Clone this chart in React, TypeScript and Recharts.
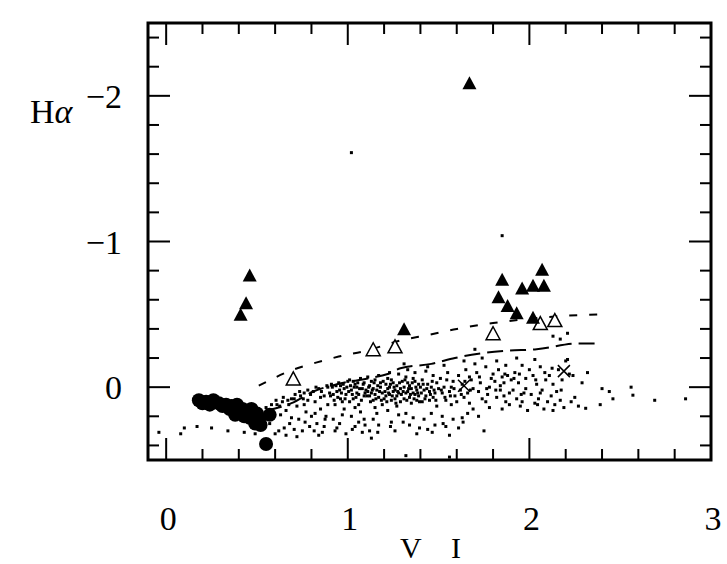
import React from 'react';
import { ComposedChart, Scatter, Line, XAxis, YAxis, ReferenceArea } from 'recharts';

const W = 727;
const H = 564;
const PLOT_LEFT = 148;
const PLOT_RIGHT = 711;
const PLOT_TOP = 23;
const PLOT_BOTTOM = 460;
const FONT = '"Liberation Serif", "DejaVu Serif", serif';

// tick positions (every 0.2, labels on integers)
const xTicks = [0, 0.2, 0.4, 0.6, 0.8, 1, 1.2, 1.4, 1.6, 1.8, 2, 2.2, 2.4, 2.6, 2.8, 3];
const yTicks = [-2.4, -2.2, -2, -1.8, -1.6, -1.4, -1.2, -1, -0.8, -0.6, -0.4, -0.2, 0, 0.2, 0.4];

// filled triangles
const filledTri: [number, number][] = [
  [1.67, -2.08], [0.46, -0.76], [0.44, -0.57], [0.41, -0.49], [1.31, -0.39],
  [1.85, -0.73], [2.07, -0.80], [1.96, -0.67], [2.02, -0.69], [2.08, -0.69],
  [1.83, -0.61], [1.88, -0.55], [1.93, -0.50], [2.02, -0.47],
];

// open triangles
const openTri: [number, number][] = [
  [0.70, -0.05], [1.14, -0.25], [1.26, -0.27], [1.80, -0.36], [2.06, -0.43], [2.14, -0.45],
];

// filled circles
const circles: [number, number][] = [
  [0.18, 0.09], [0.2, 0.11], [0.22, 0.10], [0.24, 0.12], [0.26, 0.09], [0.29, 0.11],
  [0.31, 0.13], [0.33, 0.12], [0.35, 0.15], [0.36, 0.13], [0.38, 0.19], [0.39, 0.12],
  [0.40, 0.17], [0.42, 0.15], [0.43, 0.20], [0.45, 0.16], [0.46, 0.21], [0.47, 0.15],
  [0.49, 0.25], [0.50, 0.18], [0.51, 0.23], [0.52, 0.26], [0.57, 0.19], [0.55, 0.39],
];

// crosses
const crosses: [number, number][] = [[2.19, -0.11], [1.64, -0.01]];

// small dots: field stars
const dots: [number, number][] = [
  [-0.04, 0.31], [0.08, 0.32], [0.10, 0.28], [0.17, 0.27], [0.25, 0.28], [0.34, 0.30], [0.43, 0.31], [0.49, 0.32],
  [0.52, 0.18], [0.55, 0.14], [0.57, 0.25], [0.58, 0.12], [0.60, 0.32], [0.59, 0.20],
  [0.61, 0.12], [0.63, 0.19], [0.64, 0.10], [0.65, 0.28], [0.66, 0.16], [0.67, 0.09], [0.68, 0.25], [0.69, 0.08],
  [0.62, 0.30], [0.66, 0.33], [0.69, 0.21],
  [0.71, 0.05], [0.72, 0.13], [0.73, 0.22], [0.74, 0.06], [0.75, 0.30], [0.76, 0.04], [0.77, 0.17], [0.78, 0.09],
  [0.79, 0.27], [0.72, 0.34], [0.76, 0.12], [0.78, 0.02], [0.80, 0.20],
  [0.81, 0.03], [0.82, 0.10], [0.83, 0.25], [0.84, 0.01], [0.85, 0.15], [0.86, 0.31], [0.87, 0.06], [0.88, 0.20],
  [0.89, 0.00], [0.82, 0.18], [0.85, 0.07], [0.87, 0.27], [0.89, 0.12], [0.84, 0.33], [0.90, 0.04],
  [0.91, -0.02], [0.92, 0.05], [0.93, 0.12], [0.94, 0.28], [0.95, -0.03], [0.96, 0.08], [0.97, 0.19], [0.98, 0.01],
  [0.99, 0.32], [0.92, 0.22], [0.94, 0.03], [0.96, -0.01], [0.97, 0.10], [0.99, 0.05], [0.93, 0.30], [0.98, 0.15],
  [1.00, -0.04],
  [1.01, -0.05], [1.02, 0.02], [1.03, 0.08], [1.04, -0.02], [1.05, 0.04], [1.06, 0.12], [1.07, -0.06], [1.08, 0.01],
  [1.09, 0.06], [1.02, 0.20], [1.04, 0.27], [1.05, 0.00], [1.06, 0.05], [1.07, 0.17], [1.08, 0.31], [1.09, -0.03],
  [1.03, -0.04], [1.01, 0.10], [1.10, 0.02], [1.04, 0.14], [1.06, 0.24], [1.09, 0.22],
  [1.11, -0.07], [1.12, -0.01], [1.13, 0.04], [1.14, 0.09], [1.15, -0.05], [1.16, 0.02], [1.17, 0.07], [1.18, -0.03],
  [1.19, 0.12], [1.11, 0.03], [1.12, 0.06], [1.13, -0.04], [1.14, 0.01], [1.15, 0.05], [1.16, 0.18], [1.17, 0.26],
  [1.18, 0.00], [1.19, 0.04], [1.12, 0.30], [1.14, 0.22], [1.17, -0.08], [1.20, 0.08], [1.15, 0.14], [1.13, 0.35],
  [1.21, -0.02], [1.22, 0.01], [1.23, 0.05], [1.24, -0.05], [1.25, 0.03], [1.26, 0.08], [1.27, -0.01], [1.28, 0.04],
  [1.29, 0.10], [1.21, 0.06], [1.22, -0.06], [1.23, 0.00], [1.24, 0.09], [1.25, -0.03], [1.26, 0.02], [1.27, 0.06],
  [1.28, -0.09], [1.29, 0.01], [1.22, 0.16], [1.24, 0.24], [1.26, 0.30], [1.28, 0.19], [1.30, -0.04], [1.23, -0.10],
  [1.27, 0.13],
  [1.31, 0.00], [1.32, 0.04], [1.33, -0.03], [1.34, 0.07], [1.35, 0.01], [1.36, -0.06], [1.37, 0.05], [1.38, 0.02],
  [1.39, -0.02], [1.31, 0.08], [1.32, -0.07], [1.33, 0.03], [1.34, -0.01], [1.35, 0.11], [1.36, 0.04], [1.37, -0.04],
  [1.38, 0.09], [1.39, 0.06], [1.32, 0.18], [1.34, 0.26], [1.36, 0.21], [1.38, 0.32], [1.33, -0.12], [1.37, -0.10],
  [1.31, -0.16], [1.40, 0.00],
  [1.41, -0.05], [1.42, 0.02], [1.43, 0.06], [1.44, -0.02], [1.45, 0.09], [1.46, 0.00], [1.47, -0.08], [1.48, 0.04],
  [1.49, 0.13], [1.41, 0.10], [1.43, -0.11], [1.45, 0.03], [1.47, 0.07], [1.49, -0.03], [1.42, 0.22], [1.44, 0.29],
  [1.46, 0.18], [1.48, 0.26], [1.50, 0.01], [1.44, -0.14],
  [1.51, -0.06], [1.52, 0.04], [1.53, 0.00], [1.54, 0.09], [1.55, -0.10], [1.56, 0.03], [1.57, 0.12], [1.58, -0.04],
  [1.59, 0.06], [1.52, 0.20], [1.54, 0.27], [1.56, 0.33], [1.58, 0.22], [1.53, -0.15], [1.57, 0.00], [1.60, 0.10],
  [1.56, 0.48],
  [1.61, -0.08], [1.62, 0.02], [1.63, -0.02], [1.64, 0.07], [1.65, -0.12], [1.66, 0.04], [1.67, 0.11], [1.68, -0.05],
  [1.69, 0.15], [1.61, 0.28], [1.63, 0.21], [1.66, 0.18], [1.69, 0.01], [1.70, -0.16], [1.64, -0.18], [1.67, -0.07],
  [1.71, -0.10], [1.72, 0.03], [1.73, -0.03], [1.74, 0.08], [1.75, 0.30], [1.76, -0.14], [1.77, 0.05], [1.78, 0.14],
  [1.79, -0.06], [1.72, 0.20], [1.74, -0.20], [1.76, 0.10], [1.78, 0.00], [1.80, -0.09], [1.70, -0.26],
  [1.81, -0.04], [1.82, 0.07], [1.83, -0.12], [1.84, 0.02], [1.85, -0.07], [1.86, -0.03], [1.87, 0.10], [1.88, -0.08],
  [1.89, 0.04], [1.82, -0.18], [1.85, 0.15], [1.87, -0.15], [1.89, 0.12], [1.90, -0.05], [1.84, -0.01], [1.86, 0.06],
  [1.91, 0.02], [1.92, -0.10], [1.93, 0.08], [1.94, -0.03], [1.95, 0.13], [1.96, -0.15], [1.97, 0.04], [1.98, -0.06],
  [1.99, 0.16], [1.93, -0.20], [1.96, 0.10], [1.98, 0.01], [2.00, -0.12],
  [2.01, 0.05], [2.02, -0.08], [2.03, 0.11], [2.04, -0.02], [2.05, 0.08], [2.06, -0.14], [2.07, 0.02], [2.08, 0.15],
  [2.09, -0.05], [2.03, -0.19], [2.06, 0.04], [2.10, 0.10],
  [2.11, -0.08], [2.12, 0.06], [2.13, -0.02], [2.14, 0.12], [2.15, 0.03], [2.16, -0.12], [2.17, 0.09], [2.18, -0.05],
  [2.19, 0.14], [2.13, 0.16], [2.20, -0.18], [2.21, -0.19],
  [2.22, -0.09], [2.23, 0.10], [2.24, -0.08], [2.25, 0.07], [2.27, 0.13], [2.29, -0.03],
  [2.31, 0.145], [2.32, -0.10], [2.39, 0.12], [2.40, 0.01], [2.44, 0.03], [2.46, 0.08], [2.56, 0.00], [2.57, 0.055],
  [2.69, 0.09], [2.86, 0.08],
  [1.02, -1.61], [1.85, -1.04], [1.32, 0.47], [2.13, -0.35], [2.17, -0.33], [2.21, -0.37],
  // denser core
  [0.905, 0.06], [0.915, 0.0], [0.925, 0.09], [0.935, -0.01], [0.945, 0.07], [0.955, 0.02], [0.965, 0.04], [0.975, -0.02],
  [0.985, 0.08], [0.995, 0.00], [1.005, 0.03], [1.015, -0.01], [1.025, 0.05], [1.035, 0.00], [1.045, 0.07], [1.055, -0.03],
  [1.065, 0.01], [1.075, 0.09], [1.085, -0.02], [1.095, 0.04], [1.105, 0.06], [1.115, 0.00], [1.125, 0.10], [1.135, 0.02],
  [1.145, -0.03], [1.155, 0.08], [1.165, -0.01], [1.175, 0.03], [1.185, 0.09], [1.195, -0.04], [1.205, 0.03], [1.215, 0.10],
  [1.225, 0.04], [1.235, -0.02], [1.245, 0.06], [1.255, 0.00], [1.265, 0.11], [1.275, 0.03], [1.285, -0.03], [1.295, 0.05],
  [1.305, 0.03], [1.315, -0.05], [1.325, 0.09], [1.335, 0.01], [1.345, 0.05], [1.355, -0.03], [1.365, 0.08], [1.375, 0.00],
  [1.385, 0.04], [1.395, 0.10], [1.405, 0.04], [1.415, -0.02], [1.425, 0.08], [1.435, 0.01], [1.455, 0.05], [1.465, -0.04],
  [1.475, 0.02], [1.485, 0.09], [1.515, 0.02], [1.535, 0.07], [1.545, -0.05], [1.565, 0.06], [1.585, 0.01], [1.625, 0.05],
  [1.645, -0.04], [1.675, 0.02], [1.725, -0.07], [1.765, 0.01], [1.815, 0.02], [1.865, -0.09],
  [0.705, 0.29], [0.765, 0.24], [0.815, 0.30], [0.875, 0.22], [0.955, 0.25], [1.025, 0.29], [1.095, 0.26], [1.165, 0.31],
  [1.235, 0.27], [1.305, 0.24], [1.395, 0.28], [1.465, 0.31], [1.525, 0.25], [1.635, 0.24],
  [0.575, 0.16], [0.605, 0.09], [0.625, 0.13], [0.645, 0.07], [0.675, 0.12], [0.705, 0.08], [0.735, 0.03], [0.755, 0.08],
  [0.795, 0.05], [0.825, 0.00], [0.855, 0.03], [0.885, -0.01],
  [1.915, -0.06], [1.945, -0.09], [2.035, -0.05], [2.085, -0.10], [2.125, -0.13], [2.175, 0.02], [2.045, 0.12], [1.955, 0.05],
];

// model sequences
const upperLine: [number, number][] = [
  [0.51, -0.01], [0.70, -0.12], [0.83, -0.17], [0.95, -0.21], [1.10, -0.25], [1.29, -0.32],
  [1.45, -0.36], [1.60, -0.40], [1.80, -0.44], [2.00, -0.47], [2.20, -0.49], [2.38, -0.50],
];
const lowerLine: [number, number][] = [
  [0.55, 0.16], [0.69, 0.11], [0.81, 0.03], [0.94, -0.02], [1.11, -0.06], [1.22, -0.09],
  [1.29, -0.13], [1.46, -0.16], [1.59, -0.20], [1.72, -0.23], [1.88, -0.25], [2.04, -0.26],
  [2.27, -0.30], [2.37, -0.30],
];

const toPts = (arr: [number, number][]) => arr.map(([x, y]) => ({ x, y }));

const isMajor = (v: number) => Math.abs(v - Math.round(v)) < 1e-6;
const fmt = (v: number) => (v < 0 ? '\u2212' + Math.abs(v) : String(v));

const XTick = ({ x, payload }: any) => {
  const v = payload.value;
  const len = isMajor(v) ? 22 : 11;
  return (
    <g>
      <line x1={x} x2={x} y1={PLOT_BOTTOM} y2={PLOT_BOTTOM - len} stroke="#000" strokeWidth={2} />
      <line x1={x} x2={x} y1={PLOT_TOP} y2={PLOT_TOP + len} stroke="#000" strokeWidth={2} />
      {isMajor(v) && (
        <text x={x + 2} y={PLOT_BOTTOM + 70} textAnchor="middle" fontFamily={FONT} fontSize={34} fill="#000">
          {fmt(v)}
        </text>
      )}
    </g>
  );
};

const YTick = ({ y, payload }: any) => {
  const v = payload.value;
  const len = isMajor(v) ? 22 : 11;
  return (
    <g>
      <line x1={PLOT_LEFT} x2={PLOT_LEFT + len} y1={y} y2={y} stroke="#000" strokeWidth={2} />
      <line x1={PLOT_RIGHT} x2={PLOT_RIGHT - len} y1={y} y2={y} stroke="#000" strokeWidth={2} />
      {isMajor(v) && (
        <text x={122} y={y + 12} textAnchor="end" fontFamily={FONT} fontSize={34} fill="#000">
          {fmt(v)}
        </text>
      )}
    </g>
  );
};

const FilledTriangle = ({ cx, cy }: any) => (
  <polygon points={`${cx},${cy - 8} ${cx - 7},${cy + 5} ${cx + 7},${cy + 5}`} fill="#000" />
);
const OpenTriangle = ({ cx, cy }: any) => (
  <polygon points={`${cx},${cy - 8} ${cx - 7},${cy + 5} ${cx + 7},${cy + 5}`} fill="#fff" stroke="#000" strokeWidth={1.5} />
);
const Dot = ({ cx, cy }: any) => <rect x={cx - 1.5} y={cy - 1.5} width={3} height={3} fill="#000" />;
const BigDot = ({ cx, cy }: any) => <circle cx={cx} cy={cy} r={7} fill="#000" />;
const Cross = ({ cx, cy }: any) => (
  <path d={`M${cx - 6},${cy - 6}L${cx + 6},${cy + 6}M${cx - 6},${cy + 6}L${cx + 6},${cy - 6}`} stroke="#000" strokeWidth={1.5} />
);

export default function App() {
  return (
    <div style={{ position: 'absolute', left: 0, top: 0, width: W, height: H, background: '#fff' }}>
      <ComposedChart width={W} height={H} margin={{ top: PLOT_TOP, right: W - PLOT_RIGHT, bottom: 0, left: 0 }}>
        <XAxis
          type="number"
          dataKey="x"
          domain={[-0.1, 3]}
          ticks={xTicks}
          interval={0}
          allowDataOverflow
          height={H - PLOT_BOTTOM}
          tickLine={false}
          axisLine={false}
          tick={<XTick />}
        />
        <YAxis
          type="number"
          dataKey="y"
          domain={[-2.5, 0.5]}
          reversed
          ticks={yTicks}
          interval={0}
          allowDataOverflow
          width={PLOT_LEFT}
          tickLine={false}
          axisLine={false}
          tick={<YTick />}
        />
        <ReferenceArea x1={-0.1} x2={3} y1={-2.5} y2={0.5} fill="none" stroke="#000" strokeWidth={3} ifOverflow="visible" />
        <Scatter data={toPts(dots)} shape={<Dot />} isAnimationActive={false} />
        <Line data={toPts(upperLine)} dataKey="y" type="monotone" dot={false} stroke="#000" strokeWidth={2} strokeDasharray="8 12" isAnimationActive={false} />
        <Line data={toPts(lowerLine)} dataKey="y" type="monotone" dot={false} stroke="#000" strokeWidth={2} strokeDasharray="16 7" isAnimationActive={false} />
        <Scatter data={toPts(circles)} shape={<BigDot />} isAnimationActive={false} />
        <Scatter data={toPts(crosses)} shape={<Cross />} isAnimationActive={false} />
        <Scatter data={toPts(openTri)} shape={<OpenTriangle />} isAnimationActive={false} />
        <Scatter data={toPts(filledTri)} shape={<FilledTriangle />} isAnimationActive={false} />
      </ComposedChart>
      <div style={{ position: 'absolute', left: 30, top: 95, fontFamily: FONT, fontSize: 34, lineHeight: '34px', color: '#000' }}>
        H<span style={{ fontStyle: 'italic' }}>α</span>
      </div>
      <div style={{ position: 'absolute', left: 400, top: 532, fontFamily: FONT, fontSize: 30, lineHeight: '32px', color: '#000', whiteSpace: 'pre' }}>
        {'V    I'}
      </div>
    </div>
  );
}
